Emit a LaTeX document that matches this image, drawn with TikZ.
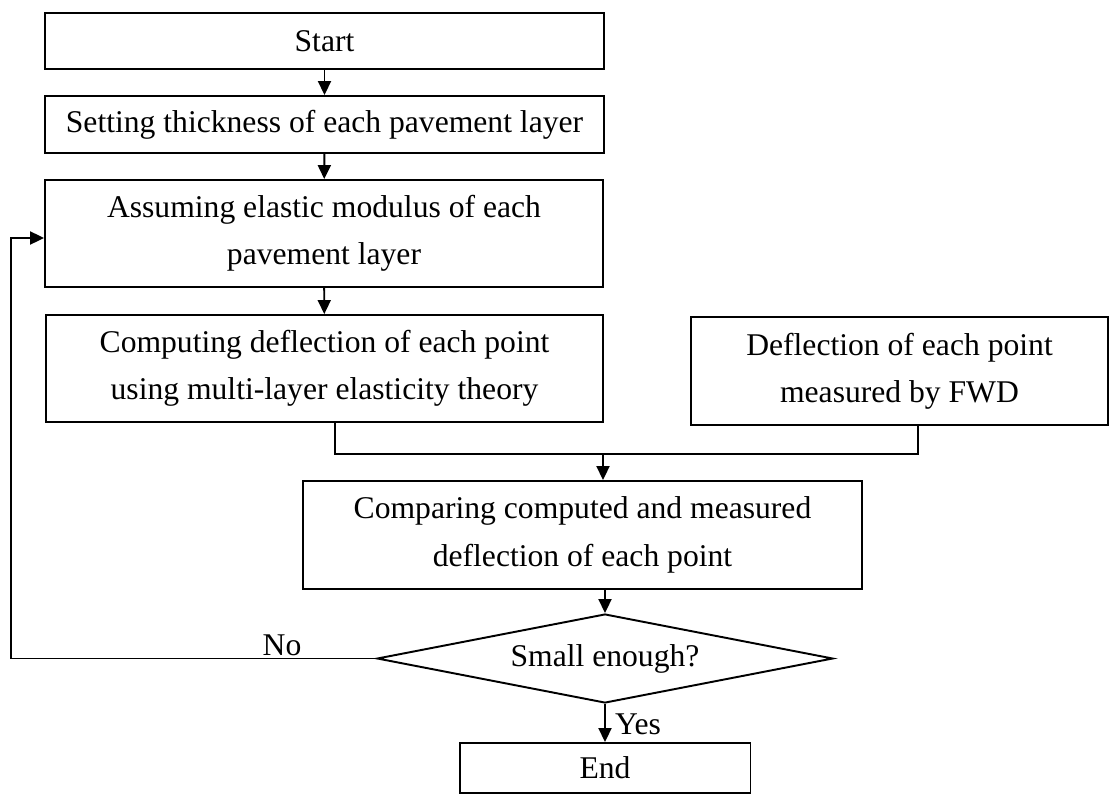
\documentclass[tikz,border=0pt]{standalone}
\usepackage{fontspec}
\setmainfont{Liberation Serif}
\usetikzlibrary{shapes.geometric,arrows.meta}
\definecolor{Black}{RGB}{0,0,0}
\definecolor{White}{RGB}{255,255,255}
\newcommand{\flowfont}{\fontsize{18}{27}\selectfont}

\tikzset{
	box/.style={draw=Black, line width=1.1pt, fill=White, align=center, inner sep=0pt, font=\flowfont},
	choice/.style={diamond, draw=Black, line width=1.1pt, fill=White, inner sep=0pt, aspect=5.12, font=\flowfont},
	flow/.style={draw=Black, line width=1.1pt},
	answer/.style={inner sep=0pt, font=\flowfont}
}

\begin{document}
\begin{tikzpicture}[x=0.02cm, y=-0.02cm, >={Triangle[length=0.28cm, width=0.26cm]}]
		
		\useasboundingbox (0,0) rectangle (1111,794);
		
		% Boxes
		\node[box, minimum width=11.18cm, minimum height=1.12cm] (start)   at (324.5,41)    {Start};
		\node[box, minimum width=11.18cm, minimum height=1.14cm] (setting) at (324.5,124.5) {Setting thickness of each pavement layer};
		\node[box, minimum width=11.16cm, minimum height=2.14cm] (assume)  at (324,233.5)   {Assuming elastic modulus of each\\pavement layer};
		\node[box, minimum width=11.14cm, minimum height=2.14cm] (compute) at (324.5,368.5) {Computing deflection of each point\\using multi-layer elasticity theory};
		\node[box, minimum width=8.34cm,  minimum height=2.16cm] (fwd)     at (899.5,371)   {Deflection of each point\\measured by FWD};
		\node[box, minimum width=11.18cm, minimum height=2.16cm] (compare) at (582.5,535)   {Comparing computed and measured\\deflection of each point};
		\node[choice, minimum width=9.12cm, minimum height=1.78cm] (decide) at (605,658.5) {Small enough?};
		\node[box, minimum width=5.82cm,  minimum height=1.0cm]  (end)     at (605,768)     {End};
		
		% Junctions
		\coordinate (jl)   at (335,454);
		\coordinate (jm)   at (603,454);
		\coordinate (jr)   at (918,454);
		\coordinate (loop) at (11,238);
		
		% Lines
		\draw[flow, ->] (start) -- (setting);
		\draw[flow, ->] (setting) -- (assume);
		\draw[flow, ->] (assume) -- (compute);
		\draw[flow] (compute.south -| jl) -- (jl) -- (jr) -- (jr |- fwd.south);
		\draw[flow, ->] (jm) -- (jm |- compare.north);
		\draw[flow, ->] (compare.south -| decide.north) -- (decide.north);
		\draw[flow, ->] (decide) -- (end);
		\draw[flow, ->] (decide.west) -| (loop) -- (loop -| assume.west);
		
		% Labels
		\node[answer] (no)  at (282,645) {No};
		\node[answer] (yes) at (638,724) {Yes};
		
	\end{tikzpicture}
\end{document}
